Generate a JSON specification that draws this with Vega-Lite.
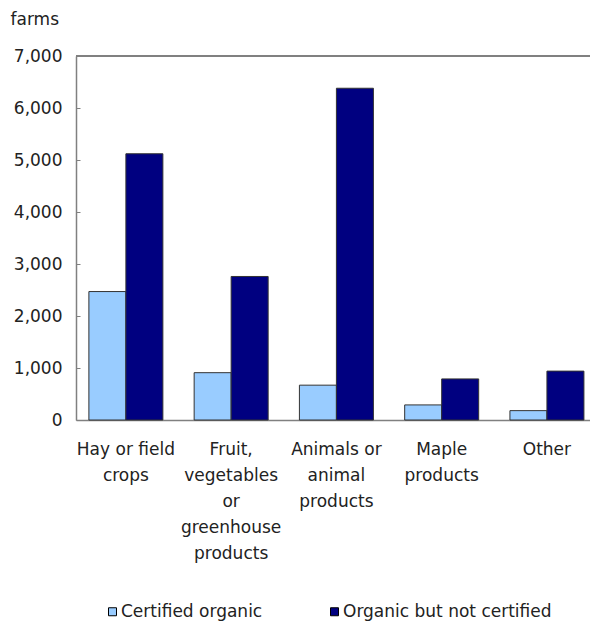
{
  "$schema": "https://vega.github.io/schema/vega-lite/v6.json",
  "width": 514,
  "height": 364,
  "autosize": "none",
  "padding": {"left": 76, "top": 56, "right": 0, "bottom": 203},
  "config": {"view": {"stroke": null}, "font": "DejaVu Sans"},
  "data": {
    "values": [
      {"category": "Hay or field|crops", "type": "Certified organic", "farms": 2470},
      {"category": "Hay or field|crops", "type": "Organic but not certified", "farms": 5120},
      {"category": "Fruit,|vegetables|or|greenhouse|products", "type": "Certified organic", "farms": 910},
      {"category": "Fruit,|vegetables|or|greenhouse|products", "type": "Organic but not certified", "farms": 2760},
      {"category": "Animals or|animal|products", "type": "Certified organic", "farms": 670},
      {"category": "Animals or|animal|products", "type": "Organic but not certified", "farms": 6380},
      {"category": "Maple|products", "type": "Certified organic", "farms": 290},
      {"category": "Maple|products", "type": "Organic but not certified", "farms": 790},
      {"category": "Other", "type": "Certified organic", "farms": 180},
      {"category": "Other", "type": "Organic but not certified", "farms": 940}
    ]
  },
  "layer": [
    {
      "mark": {"type": "bar", "stroke": "#333333", "strokeWidth": 1},
      "encoding": {
        "x": {
          "field": "category",
          "type": "nominal",
          "sort": null,
          "scale": {"paddingInner": 0.297, "paddingOuter": 0.09, "align": 0.68},
          "axis": {
            "title": null,
            "labelExpr": "split(datum.label, '|')",
            "labelAngle": 0,
            "labelFontSize": 17,
            "labelLineHeight": 26,
            "labelPadding": 21,
            "labelColor": "#222222",
            "labelLimit": 1000,
            "labelOverlap": false,
            "ticks": false,
            "domainColor": "#808080",
            "domainWidth": 1.5
          }
        },
        "xOffset": {
          "field": "type",
          "sort": ["Certified organic", "Organic but not certified"],
          "scale": {"paddingInner": 0, "paddingOuter": 0}
        },
        "y": {
          "field": "farms",
          "type": "quantitative",
          "scale": {"domain": [0, 7000], "nice": false},
          "axis": {
            "title": "farms",
            "titleAngle": 0,
            "titleAlign": "left",
            "titleBaseline": "alphabetic",
            "titleX": -66,
            "titleY": -32,
            "titleFontSize": 17,
            "titleFontWeight": "normal",
            "titleColor": "#222222",
            "values": [0, 1000, 2000, 3000, 4000, 5000, 6000, 7000],
            "format": ",.0f",
            "labelFontSize": 17,
            "labelColor": "#222222",
            "labelPadding": 18,
            "tickSize": -4,
            "tickColor": "#808080",
            "domainColor": "#808080",
            "domainWidth": 1.5,
            "grid": false
          }
        },
        "color": {
          "field": "type",
          "type": "nominal",
          "scale": {"domain": ["Certified organic", "Organic but not certified"], "range": ["#99CCFF", "#000080"]},
          "legend": {
            "title": null,
            "orient": "none",
            "legendX": 28,
            "legendY": 547,
            "direction": "horizontal",
            "columns": 2,
            "columnPadding": 63,
            "symbolType": "square",
            "symbolSize": 64,
            "symbolStrokeColor": "#000000",
            "symbolStrokeWidth": 1,
            "labelFontSize": 17,
            "labelColor": "#222222",
            "labelOffset": 0,
            "labelLimit": 1000,
            "padding": 0
          }
        }
      }
    },
    {
      "mark": {"type": "rule", "color": "#808080", "strokeWidth": 1.5},
      "encoding": {"y": {"datum": 7000}}
    }
  ]
}
